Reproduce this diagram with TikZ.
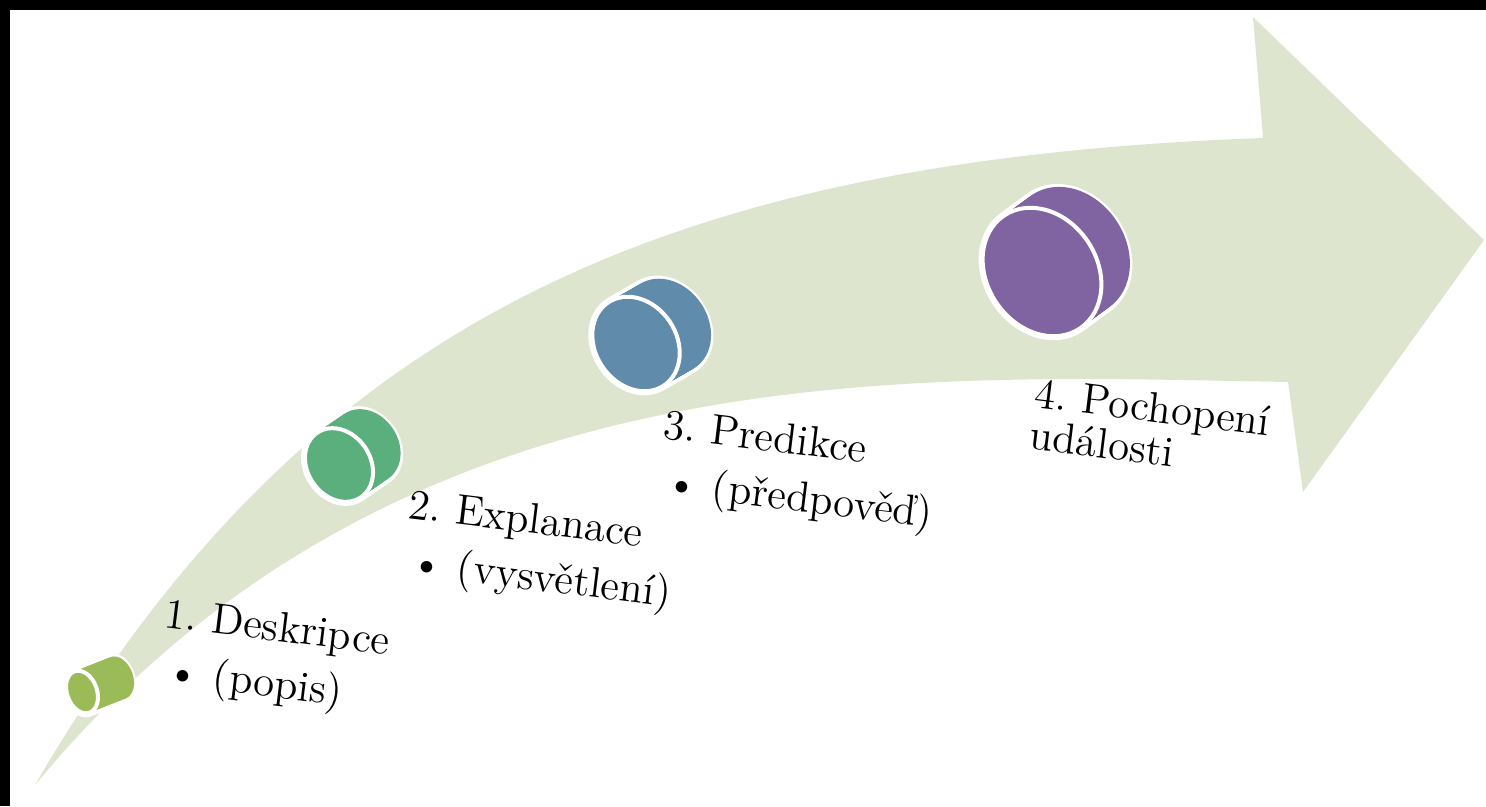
\documentclass[tikz,border=0pt]{standalone}
\usepackage{fontspec}
\frenchspacing

\definecolor{sage}{RGB}{222,229,207}
\definecolor{olivedrum}{RGB}{155,187,89}
\definecolor{greendrum}{RGB}{91,175,125}
\definecolor{bluedrum}{RGB}{96,139,170}
\definecolor{purpledrum}{RGB}{128,100,162}

% centre x, centre y, radius a, radius b, axis dx, axis dy, tilt, colour
\newcommand{\drum}[8]{%
  \foreach \t in {0,0.1,...,1}
    \draw[white, line width=0.8mm] (#1+#5*\t,#2+#6*\t) ellipse [x radius=#3, y radius=#4, rotate=#7];
  \foreach \t in {0,0.05,...,1}
    \fill[#8] (#1+#5*\t,#2+#6*\t) ellipse [x radius=#3, y radius=#4, rotate=#7];
  \filldraw[#8, draw=white, line width=0.4mm] (#1,#2) ellipse [x radius=#3, y radius=#4, rotate=#7];
}

\begin{document}
\begin{tikzpicture}[x=0.01cm, y=-0.01cm,
  stagetext/.style={anchor=base west, inner sep=0pt, rotate=-7, text width=4cm, align=left,
    font=\fontsize{12.2}{14}\selectfont}]
\useasboundingbox (0,0) rectangle (1486,806);
\fill[black] (0,0) rectangle (1486,806);
\fill[white] (10,10) rectangle (1486,806);

% the bent arrow
\fill[sage] (35,785) .. controls (300,330) and (650,160) .. (1263,138) -- (1253,17) -- (1484,240)
  -- (1303,492) -- (1288,382) .. controls (900,375) and (396,348) .. (35,785) -- cycle;

\drum{82}{692}{22}{15}{38}{-15}{-70}{olivedrum}
\drum{339}{465}{39}{31.5}{29}{-20}{-56}{greendrum}
\drum{636}{344}{50}{40.5}{33}{-19}{-56}{bluedrum}
\drum{1042}{272}{68}{55}{30}{-22}{-56}{purpledrum}

\node[stagetext] (desc) at (163,627) {1. Deskripce\\[2pt]\hspace*{2.5pt}\textbullet\hspace{4pt}(popis)};
\node[stagetext] (expl) at (407,518) {2. Explanace\\[2pt]\hspace*{2.5pt}\textbullet\hspace{4pt}(vysvětlení)};
\node[stagetext] (pred) at (662,438) {3. Predikce\\[2pt]\hspace*{2.5pt}\textbullet\hspace{4pt}(předpověď)};
\node[stagetext] (poch) at (1033,407) {4. Pochopení\\[-2pt]události};

\end{tikzpicture}
\end{document}
